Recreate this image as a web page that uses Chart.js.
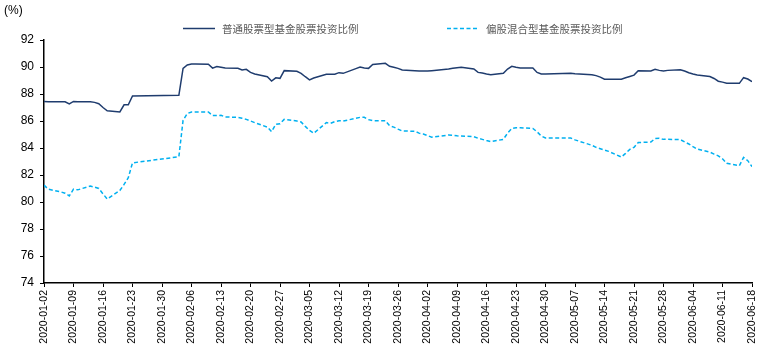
<!DOCTYPE html>
<html>
<head>
<meta charset="utf-8">
<script src="https://cdn.jsdelivr.net/npm/chart.js@4.4.1/dist/chart.umd.min.js"></script>
<style>
  body { margin: 0; background: #fff; }
  #wrap { width: 759px; height: 361px; }
</style>
</head>
<body>
<div id="wrap"><canvas id="myChart"></canvas></div>
<script>
// trading days
const dates = [
  '2020-01-02','2020-01-03','2020-01-06','2020-01-07','2020-01-08','2020-01-09','2020-01-10',
  '2020-01-13','2020-01-14','2020-01-15','2020-01-16','2020-01-17','2020-01-20','2020-01-21',
  '2020-01-22','2020-01-23',
  '2020-02-03','2020-02-04','2020-02-05','2020-02-06','2020-02-07','2020-02-10','2020-02-11',
  '2020-02-12','2020-02-13','2020-02-14','2020-02-17','2020-02-18','2020-02-19','2020-02-20',
  '2020-02-21','2020-02-24','2020-02-25','2020-02-26','2020-02-27','2020-02-28',
  '2020-03-02','2020-03-03','2020-03-04','2020-03-05','2020-03-06','2020-03-09','2020-03-10',
  '2020-03-11','2020-03-12','2020-03-13','2020-03-16','2020-03-17','2020-03-18','2020-03-19',
  '2020-03-20','2020-03-23','2020-03-24','2020-03-25','2020-03-26','2020-03-27','2020-03-30',
  '2020-03-31',
  '2020-04-01','2020-04-02','2020-04-03','2020-04-07','2020-04-08','2020-04-09','2020-04-10',
  '2020-04-13','2020-04-14','2020-04-15','2020-04-16','2020-04-17','2020-04-20','2020-04-21',
  '2020-04-22','2020-04-23','2020-04-24','2020-04-27','2020-04-28','2020-04-29','2020-04-30',
  '2020-05-06','2020-05-07','2020-05-08','2020-05-11','2020-05-12','2020-05-13','2020-05-14',
  '2020-05-15','2020-05-18','2020-05-19','2020-05-20','2020-05-21','2020-05-22','2020-05-25',
  '2020-05-26','2020-05-27','2020-05-28','2020-05-29',
  '2020-06-01','2020-06-02','2020-06-03','2020-06-04','2020-06-05','2020-06-08','2020-06-09',
  '2020-06-10','2020-06-11','2020-06-12','2020-06-15','2020-06-16','2020-06-17','2020-06-18'
];

const stockFund = [
  87.45, 87.42, 87.42, 87.42, 87.26, 87.45, 87.42,
  87.42, 87.38, 87.28, 87.00, 86.76, 86.67, 87.20,
  87.20, 87.85,
  87.90, 89.90, 90.15, 90.22, 90.22, 90.20, 89.92,
  90.04, 89.98, 89.92, 89.90, 89.78, 89.83, 89.60,
  89.48, 89.28, 88.96, 89.20, 89.16, 89.73,
  89.68, 89.53, 89.28, 89.05, 89.18, 89.46, 89.46,
  89.46, 89.58, 89.53, 89.88, 90.00, 89.93, 89.90,
  90.19, 90.27, 90.05, 89.98, 89.90, 89.78, 89.72,
  89.70,
  89.70, 89.70, 89.73, 89.85, 89.90, 89.95, 89.98,
  89.85, 89.60, 89.55, 89.48, 89.43, 89.53, 89.85,
  90.05, 89.98, 89.93, 89.93, 89.60, 89.48, 89.48,
  89.53, 89.50, 89.48, 89.43, 89.36, 89.25, 89.10,
  89.09, 89.09, 89.20, 89.30, 89.40, 89.73, 89.70,
  89.83, 89.75, 89.70, 89.75,
  89.80, 89.70, 89.58, 89.48, 89.40, 89.30, 89.15,
  88.95, 88.88, 88.79, 88.79, 89.21, 89.11, 88.91
];

const mixedFund = [
  81.25, 80.95, 80.75, 80.65, 80.45, 80.95, 80.90,
  81.18, 81.10, 81.00, 80.60, 80.22, 80.85, 81.30,
  81.80, 82.90,
  83.35, 86.05, 86.55, 86.67, 86.67, 86.67, 86.40,
  86.40, 86.42, 86.30, 86.27, 86.20, 86.12, 86.00,
  85.88, 85.55, 85.21, 85.75, 85.80, 86.12,
  86.00, 85.93, 85.60, 85.30, 85.09, 85.88, 85.83,
  85.95, 86.02, 86.00, 86.20, 86.27, 86.27, 86.10,
  86.02, 86.02, 85.65, 85.55, 85.40, 85.26, 85.24,
  85.10,
  85.04, 84.92, 84.80, 84.96, 84.94, 84.90, 84.89,
  84.84, 84.72, 84.64, 84.55, 84.47, 84.64, 85.10,
  85.45, 85.50, 85.50, 85.45, 85.20, 84.89, 84.74,
  84.74, 84.60, 84.50, 84.20, 84.05, 83.95, 83.85,
  83.75, 83.33, 83.60, 83.90, 84.05, 84.40, 84.44,
  84.70, 84.72, 84.64, 84.64,
  84.62, 84.45, 84.30, 84.10, 83.92, 83.70, 83.55,
  83.42, 83.20, 82.87, 82.69, 83.31, 83.06, 82.62
];

const xTickLabels = [
  '2020-01-02','2020-01-09','2020-01-16','2020-01-23','2020-01-30','2020-02-06','2020-02-13',
  '2020-02-20','2020-02-27','2020-03-05','2020-03-12','2020-03-19','2020-03-26','2020-04-02',
  '2020-04-09','2020-04-16','2020-04-23','2020-04-30','2020-05-07','2020-05-14','2020-05-21',
  '2020-05-28','2020-06-04','2020-06-11','2020-06-18'
];

const seriesNames = ['普通股票型基金股票投资比例', '偏股混合型基金股票投资比例'];

// day offsets from the first date
const day0 = Date.parse(dates[0]);
const dayOf = s => Math.round((Date.parse(s) - day0) / 86400000);
const toPoints = vals => vals.map((v, i) => ({ x: dayOf(dates[i]), y: v }));

const navy = '#1F3C6E';
const cyan = '#00B0F0';

const extras = {
  id: 'extras',
  afterDraw(chart) {
    const c = chart.ctx;
    c.save();
    c.fillStyle = '#000';
    c.font = '12px "Liberation Sans", Arial, sans-serif';
    c.textBaseline = 'middle';
    c.textAlign = 'left';
    c.fillText('(%)', 4, 11);

    const items = [
      { x: 183, color: navy, dash: [] },
      { x: 447, color: cyan, dash: [4, 2.5] }
    ];
    c.font = '10.5px "Noto Sans CJK SC", sans-serif';
    items.forEach((it, i) => {
      c.strokeStyle = it.color;
      c.lineWidth = 1.5;
      c.setLineDash(it.dash);
      c.beginPath();
      c.moveTo(it.x, 28.5);
      c.lineTo(it.x + 32, 28.5);
      c.stroke();
      c.setLineDash([]);
      c.fillStyle = '#595959';
      c.fillText(seriesNames[i], it.x + 39, 29);
    });
    c.restore();
  }
};

const ctx = document.getElementById('myChart');

new Chart(ctx, {
  type: 'line',
  data: {
    datasets: [{
      label: seriesNames[0],
      data: toPoints(stockFund),
      borderColor: navy,
      borderWidth: 1.5,
      pointRadius: 0,
      tension: 0
    }, {
      label: seriesNames[1],
      data: toPoints(mixedFund),
      borderColor: cyan,
      borderWidth: 1.5,
      borderDash: [4, 2.5],
      pointRadius: 0,
      tension: 0
    }]
  },
  options: {
    responsive: true,
    maintainAspectRatio: false,
    animation: false,
    layout: { padding: { top: 40, right: 7, left: 0, bottom: 0 } },
    plugins: {
      legend: { display: false },
      tooltip: { enabled: false }
    },
    scales: {
      x: {
        type: 'linear',
        min: 0,
        max: 168,
        afterFit(scale) {
          scale.height = 78;
          scale.paddingLeft = 0;
          scale.paddingRight = 0;
        },
        afterBuildTicks(scale) {
          scale.ticks = xTickLabels.map((t, i) => ({ value: i * 7 }));
        },
        ticks: {
          autoSkip: false,
          maxRotation: 90,
          minRotation: 90,
          padding: 3,
          color: '#000',
          font: { family: '"Liberation Sans", Arial, sans-serif', size: 10.5 },
          callback: (v, i) => xTickLabels[i]
        },
        grid: { drawOnChartArea: false, drawTicks: true, tickLength: 4, color: '#000' },
        border: { color: '#000', width: 1.5 }
      },
      y: {
        min: 74,
        max: 92,
        afterFit(scale) { scale.width = 44; },
        ticks: {
          stepSize: 2,
          padding: 6,
          color: '#000',
          font: { family: '"Liberation Sans", Arial, sans-serif', size: 12 }
        },
        grid: { drawOnChartArea: false, drawTicks: true, tickLength: 4, color: '#000' },
        border: { color: '#000', width: 1.5 }
      }
    }
  },
  plugins: [extras]
});
</script>
</body>
</html>
